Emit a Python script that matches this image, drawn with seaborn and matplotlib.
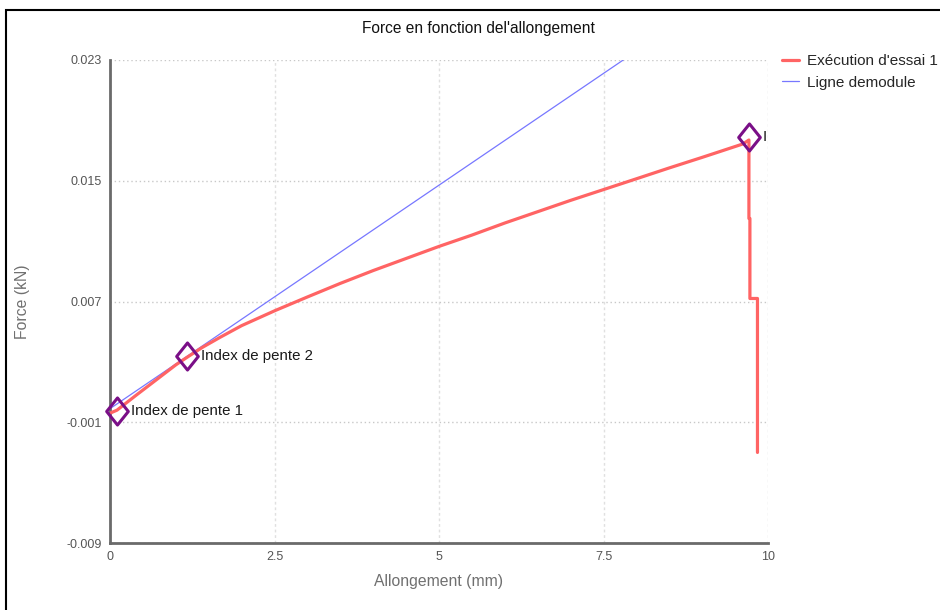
import matplotlib
matplotlib.use("Agg")
import matplotlib.pyplot as plt
import seaborn as sns
import pandas as pd
from matplotlib.path import Path
from matplotlib.patches import Rectangle

# ---- data ----
elong = [0.0, 0.106, 0.4, 0.7, 1.0, 1.17, 1.4, 1.67, 2.0, 2.51, 3.0, 3.5, 4.0,
         4.5, 5.0, 5.5, 6.0, 6.5, 7.0, 7.49, 8.0, 8.5, 9.0, 9.3, 9.62, 9.71,
         9.71, 9.725, 9.725, 9.84, 9.84]
force = [-0.0004, -0.0002, 0.0008, 0.0018, 0.0028, 0.0033, 0.00395, 0.00462, 0.0054,
         0.0064, 0.0073, 0.0082, 0.00905, 0.00985, 0.01065, 0.0114, 0.0122, 0.01295,
         0.0137, 0.0144, 0.01513, 0.01585, 0.01655, 0.01698, 0.01744, 0.0177,
         0.0125, 0.0125, 0.0072, 0.0072, -0.0030]
mod_x = [0.0, 7.80]
mod_y = [-0.0001, 0.023]
idx_x = [0.106, 1.17, 9.71]
idx_y = [-0.00024, 0.00341, 0.0179]
idx_labels = ["Index de pente 1", "Index de pente 2", "I"]
x_ticks = [0, 2.5, 5, 7.5, 10]
x_tick_labels = ["0", "2.5", "5", "7.5", "10"]
y_ticks = [-0.009, -0.001, 0.007, 0.015, 0.023]
y_tick_labels = ["-0.009", "-0.001", "0.007", "0.015", "0.023"]
series_names = ["Exécution d'essai 1", "Ligne demodule"]
title = "Force en fonction del'allongement"
xlabel = "Allongement (mm)"
ylabel = "Force (kN)"

sns.set_theme(style="white")
plt.rcParams['font.family'] = ['Liberation Sans', 'DejaVu Sans']

fig = plt.figure(figsize=(9.4, 6.1), dpi=100)
W, H = 940, 610
ax = fig.add_axes([110 / W, 1 - 543 / H, (768 - 110) / W, (543 - 60) / H])

red = "#ff6464"
blue = "#7777ff"
purple = "#7a0f87"

df_run = pd.DataFrame({"x": elong, "y": force})
df_mod = pd.DataFrame({"x": mod_x, "y": mod_y})

sns.lineplot(data=df_run, x="x", y="y", estimator=None, sort=False, ax=ax,
             color=red, linewidth=2.3, label=series_names[0], zorder=3)
sns.lineplot(data=df_mod, x="x", y="y", estimator=None, sort=False, ax=ax,
             color=blue, linewidth=0.9, label=series_names[1], zorder=2)

diamond = Path([(0, 1), (0.8, 0), (0, -1), (-0.8, 0), (0, 1)],
               [Path.MOVETO, Path.LINETO, Path.LINETO, Path.LINETO, Path.CLOSEPOLY])
ax.plot(idx_x, idx_y, linestyle="none", marker=diamond, markersize=19.5,
        markerfacecolor="none", markeredgecolor=purple, markeredgewidth=2.2,
        zorder=5, clip_on=False)
for xx, yy, lab in zip(idx_x, idx_y, idx_labels):
    ax.annotate(lab, (xx, yy), xytext=(10, 0), textcoords="offset points",
                va="center", ha="left", fontsize=10.8, color="#1a1a1a", zorder=6)

ax.set_xlim(0, 10)
ax.set_ylim(-0.009, 0.023)
ax.set_xticks(x_ticks)
ax.set_xticklabels(x_tick_labels)
ax.set_yticks(y_ticks)
ax.set_yticklabels(y_tick_labels)
ax.tick_params(axis="both", labelsize=9, colors="#555555", length=2, width=1, pad=4)
ax.tick_params(axis="both", labelcolor="#555555")

ax.grid(True, axis="y", linestyle=(0, (1, 2)), color="#c8c8c8", linewidth=1)
ax.grid(True, axis="x", linestyle=(0, (2, 2)), color="#e0e0e0", linewidth=1)
ax.set_axisbelow(True)

for s in ["top", "right"]:
    ax.spines[s].set_visible(False)
for s in ["left", "bottom"]:
    ax.spines[s].set_color("#6a6a6a")
    ax.spines[s].set_linewidth(2)

ax.set_xlabel(xlabel, fontsize=11.3, color="#707070", labelpad=8)
ax.set_ylabel(ylabel, fontsize=11.3, color="#707070", labelpad=26)

fig.text(478 / W, 1 - 28 / H, title, ha="center", va="center", fontsize=11.2, color="#111111")

leg = ax.legend(loc="upper left", bbox_to_anchor=(1.012, 1.025), frameon=False,
                fontsize=11, handlelength=1.1, handletextpad=0.55, labelspacing=0.5,
                borderaxespad=0)

fig.patches.append(Rectangle((6 / W, -0.1), 1.2, (H - 10) / H + 0.1, transform=fig.transFigure,
                             fill=False, edgecolor="black", linewidth=1.5))

fig.savefig("out.png", dpi=100)
